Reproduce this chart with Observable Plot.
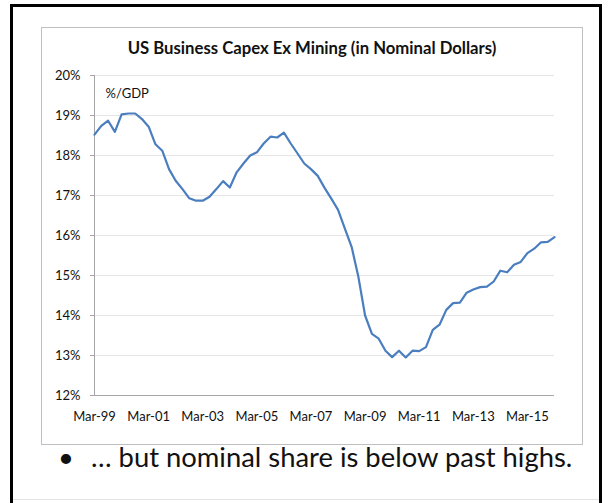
<!DOCTYPE html>
<html>
<head>
<meta charset="utf-8">
<script src="https://cdn.jsdelivr.net/npm/d3@7"></script>
<script src="https://cdn.jsdelivr.net/npm/@observablehq/plot@0.6"></script>
<style>
  html, body { margin: 0; padding: 0; background: #fff; width: 609px; height: 503px; overflow: hidden; font-family: Lato, "Open Sans", sans-serif; }
  #outer { position: absolute; left: 10px; top: 4px; width: 586px; height: 500px; border: 3px solid #000; border-bottom: none; box-sizing: content-box; }
  #bottomline { position: absolute; left: 13px; top: 499px; width: 586px; height: 1px; background: #e4e4e4; }
  #box { position: absolute; left: 41px; top: 27px; width: 540px; height: 416px; border: 1px solid #bfbfbf; }
  #title { position: absolute; left: 41px; top: 38px; width: 542px; text-align: center; font-weight: bold; font-size: 16.7px; line-height: 20px; color: #111; white-space: nowrap; }
  #chart { position: absolute; left: 41px; top: 60px; }
  #bullet { position: absolute; left: 58px; top: 440px; font-size: 27.4px; color: #111; white-space: nowrap; }
  #bullet .dot { display: inline-block; width: 33px; }
</style>
</head>
<body>
<div id="outer"></div>
<div id="bottomline"></div>
<div id="box"></div>
<div id="title">US Business Capex Ex Mining (in Nominal Dollars)</div>
<div id="chart"></div>
<div id="bullet"><span class="dot">•</span>… but nominal share is below past highs.</div>
<script>
// Quarterly values, Mar-99 to Mar-16, % of GDP
const capexShare = [
  18.52, 18.74, 18.87, 18.59, 19.03, 19.05, 19.05, 18.91, 18.72, 18.28,
  18.12, 17.66, 17.37, 17.16, 16.93, 16.87, 16.87, 16.97, 17.16, 17.36,
  17.20, 17.58, 17.80, 18.00, 18.08, 18.30, 18.47, 18.45, 18.57, 18.30,
  18.05, 17.80, 17.66, 17.49, 17.19, 16.92, 16.64, 16.17, 15.71, 14.96,
  14.00, 13.54, 13.42, 13.12, 12.96, 13.12, 12.95, 13.12, 13.11, 13.21,
  13.64, 13.77, 14.14, 14.31, 14.32, 14.57, 14.65, 14.71, 14.72, 14.85,
  15.12, 15.08, 15.27, 15.34, 15.56, 15.67, 15.83, 15.84, 15.96
];
const startQuarter = new Date(Date.UTC(1999, 2, 1));
const quarterDates = capexShare.map((_, i) => d3.utcMonth.offset(startQuarter, 3 * i));
const xTickLabels = ["Mar-99", "Mar-01", "Mar-03", "Mar-05", "Mar-07", "Mar-09", "Mar-11", "Mar-13", "Mar-15"];
const yTicks = [12, 13, 14, 15, 16, 17, 18, 19, 20];
const unitLabel = "%/GDP";

const parseLabel = d3.utcParse("%b-%y");
const xTickDates = xTickLabels.map(parseLabel);
const data = capexShare.map((v, i) => ({date: quarterDates[i], value: v}));

const chart = Plot.plot({
  width: 541,
  height: 380,
  marginLeft: 53,
  marginRight: 28,
  marginTop: 15,
  marginBottom: 45,
  style: {fontFamily: "Lato, 'Open Sans', sans-serif", fontSize: "13px", color: "#222", background: "transparent"},
  x: {type: "utc", domain: [quarterDates[0], quarterDates[quarterDates.length - 1]], label: null},
  y: {domain: [12, 20], label: null},
  marks: [
    Plot.gridY(yTicks, {stroke: "#e6e6e6", strokeOpacity: 1, strokeWidth: 1}),
    Plot.ruleY([12], {stroke: "#a6a6a6", strokeWidth: 1}),
    Plot.ruleX([quarterDates[0]], {stroke: "#a6a6a6", strokeWidth: 1}),
    Plot.axisY(yTicks, {label: null, tickSize: 4, tickPadding: 10, stroke: "#a6a6a6", tickFormat: d => d + "%", fill: "#111", fontSize: 13}),
    Plot.axisX(xTickDates, {label: null, tickSize: 0, tickPadding: 16, tickFormat: (d, i) => xTickLabels[i], fill: "#111", fontSize: 13}),
    Plot.line(data, {x: "date", y: "value", stroke: "#4a7ebf", strokeWidth: 2.2}),
    Plot.text([unitLabel], {frameAnchor: "top-left", dx: 11, dy: 13, fontSize: 13, fill: "#111", textAnchor: "start"})
  ]
});
document.getElementById("chart").appendChild(chart);
</script>
</body>
</html>
